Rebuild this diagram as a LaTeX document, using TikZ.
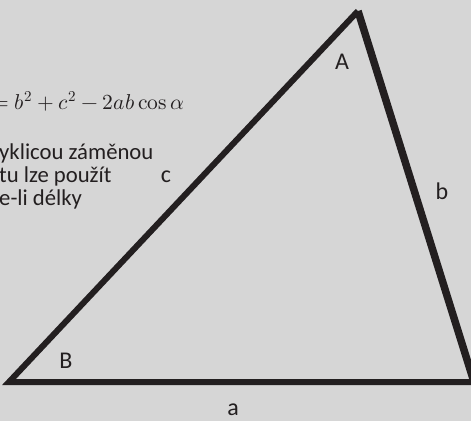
\documentclass[tikz,border=0pt]{standalone}
\usepackage{unicode-math}
\setmainfont{Carlito}
\setmathfont{Latin Modern Math}
\definecolor{bg}{HTML}{D6D6D6}
\definecolor{ink}{HTML}{231F20}
\begin{document}
\begin{tikzpicture}[x=1pt,y=-1pt,
  side/.style={draw=ink,line width=6pt,miter limit=10},
  lbl/.style={text=ink,font=\fontsize{24}{28}\selectfont,inner sep=0pt},
  txt/.style={text=ink,font=\fontsize{22.7}{26}\selectfont,inner sep=0pt,anchor=base west},
  eq/.style={text=ink,font=\fontsize{21.5}{25}\selectfont,inner sep=0pt,anchor=base west}]
\useasboundingbox (0,0) rectangle (471,421);
\clip (0,0) rectangle (471,421);
\fill[bg] (0,0) rectangle (471,421);
\coordinate (B) at (9,382);
\coordinate (A) at (358,11);
\coordinate (C) at (474,382);
\draw[side] (C) -- (B) -- (A);
\draw[side,line width=7.5pt] (A) -- (C);
\node[lbl] (lA) at (342,62) {A};
\node[lbl] (lB) at (66,361) {B};
\node[lbl] (lc) at (166,177) {c};
\node[lbl] (lb) at (442,191) {b};
\node[lbl] (la) at (233,410) {a};
\node[eq] (f) at (-8,109) {$= b^2 + c^2 - 2ab\mathop{\symup{cos}}\nolimits\alpha$};
\node[txt] (t1) at (-1,159) {yklicou záměnou};
\node[txt] (t2) at (-1,182) {tu lze použít};
\node[txt] (t3) at (-1,205) {e-li délky};
\end{tikzpicture}
\end{document}
